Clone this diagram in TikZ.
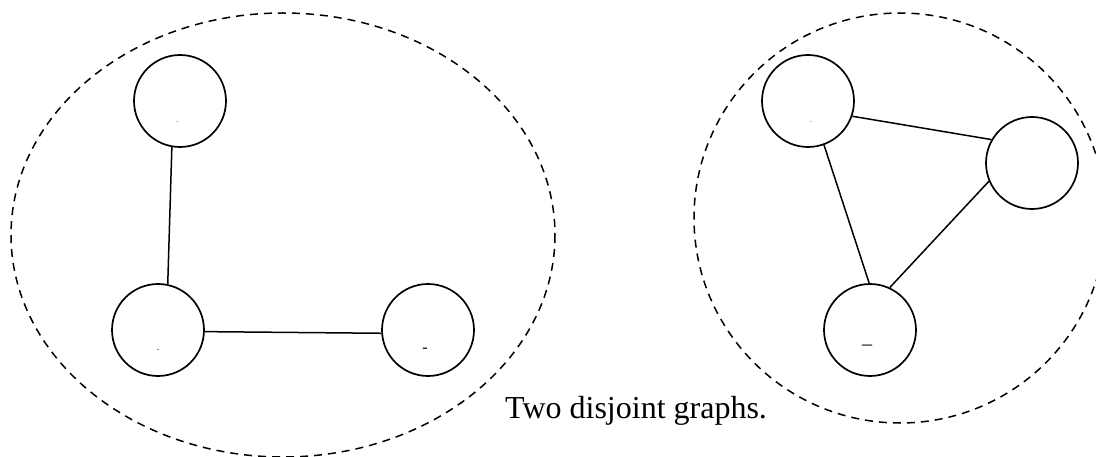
\documentclass[tikz,border=0pt]{standalone}
\usepackage{fontspec}
\setmainfont{Liberation Serif}
\begin{document}
\begin{tikzpicture}[x=1pt,y=-1pt,
  vertex/.style={circle,draw,line width=1.7pt,minimum size=92pt,inner sep=0pt},
  group/.style={draw,line width=1.5pt,dash pattern=on 8pt off 6pt},
  edge/.style={line width=1.5pt},
  tick/.style={inner sep=0pt,font=\fontsize{10}{10}\selectfont}]
\useasboundingbox (0,0) rectangle (1096,457);
% dashed groups
\draw[group] (283,235) ellipse [x radius=272, y radius=222];
\draw[group] (900,218) ellipse [x radius=206, y radius=205];
% left graph
\node[vertex] (a) at (180,101) {};
\node[vertex] (b) at (158,330) {};
\node[vertex] (c) at (428,330) {};
\draw[edge] (a.-100) -- (b.78);
\draw[edge] (b.-2) -- (c.184);
% right graph
\node[vertex] (d) at (808,101) {};
\node[vertex] (e) at (1032,163) {};
\node[vertex] (f) at (870,330) {};
\draw[edge] (d.-19) -- (e.150);
\draw[edge] (d.-70) -- (f.91);
\draw[edge] (e.-157) -- (f.65);
% small marks
\node[tick,text=gray] (ma) at (177,122) {.};
\node[tick] (mb) at (158,350) {.};
\node[tick,font=\fontsize{16}{16}\selectfont] (mc) at (425,350) {-};
\node[tick,text=gray] (md) at (811,122) {.};
\node[tick,font=\fontsize{20}{20}\selectfont] (mf) at (867,345) {\_};
% caption
\node[anchor=base west,inner sep=0pt,font=\fontsize{32}{38}\selectfont] (cap) at (505,418) {Two disjoint graphs.};
\end{tikzpicture}
\end{document}
